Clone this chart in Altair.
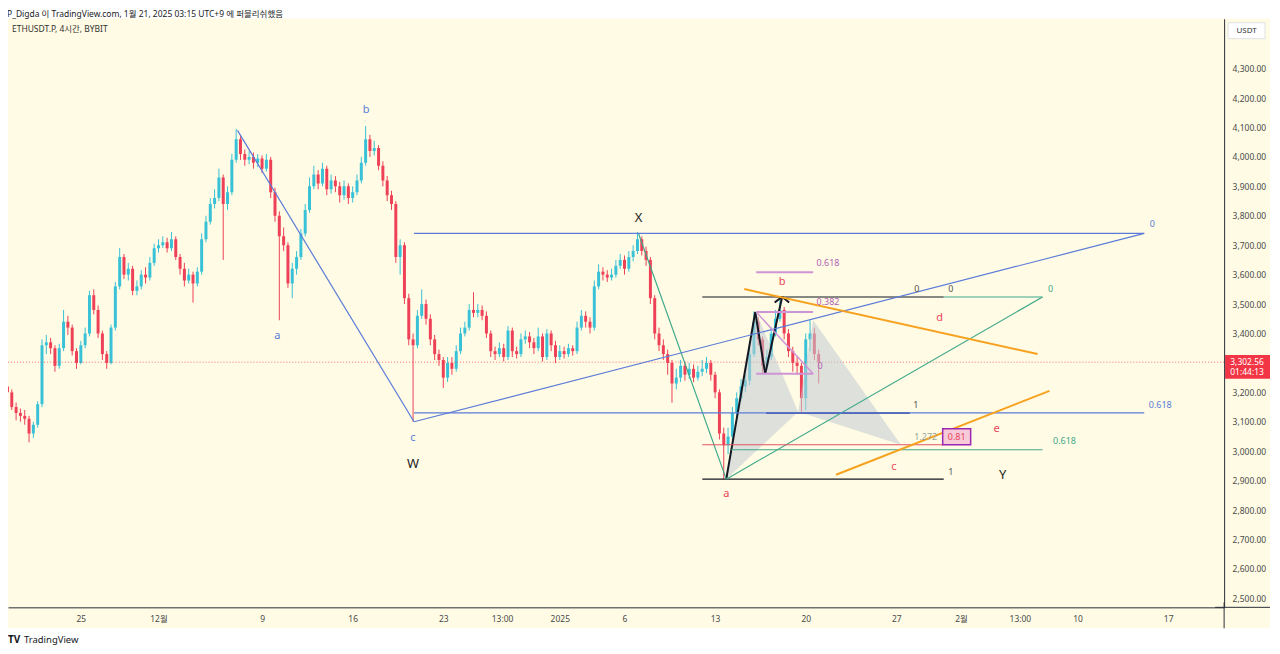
import altair as alt
import pandas as pd
import numpy as np

# ---------------- data (8h candles, x = days since 2024-11-25 00:00 UTC+9) ----------------
first_day = -17 / 3
first_open = 3220
closes = [3200, 3150, 3130, 3120, 3110, 3060, 3090, 3160, 3360, 3370,
          3350, 3290, 3350, 3440, 3420, 3340, 3300, 3360, 3400, 3530,
          3480, 3400, 3330, 3300, 3420, 3560, 3660, 3600, 3620, 3545,
          3560, 3600, 3590, 3640, 3690, 3700, 3710, 3690, 3720, 3660,
          3620, 3580, 3600, 3570, 3610, 3720, 3780, 3840, 3860, 3930,
          3840, 3880, 3990, 4060, 4010, 3990, 4000, 3980, 3995, 3960,
          3990, 3880, 3800, 3730, 3700, 3570, 3620, 3660, 3740, 3820,
          3900, 3940, 3910, 3960, 3890, 3920, 3900, 3870, 3900, 3860,
          3880, 3920, 3980, 4060, 4020, 4030, 3970, 3920, 3870, 3840,
          3660, 3700, 3520, 3380, 3360, 3460, 3500, 3450, 3380, 3330,
          3310, 3250, 3300, 3280, 3340, 3400, 3420, 3480, 3470, 3480,
          3460, 3400, 3340, 3330, 3350, 3320, 3410, 3340, 3330, 3380,
          3390, 3370, 3350, 3390, 3320, 3400, 3360, 3320, 3340, 3330,
          3350, 3340, 3420, 3460, 3440, 3420, 3560, 3610, 3600, 3590,
          3600, 3630, 3650, 3620, 3660, 3680, 3720, 3680, 3650, 3520,
          3400, 3360, 3330, 3300, 3230, 3250, 3290, 3260, 3280, 3250,
          3270, 3280, 3300, 3260, 3200, 3060, 3020, 3050, 3130, 3180,
          3220, 3240, 3330, 3440, 3380, 3290, 3320, 3400, 3450, 3480,
          3400, 3340, 3300, 3290, 3180, 3380, 3400, 3330, 3302.56]
highs = [3235, 3210, 3165, 3145, 3140, 3120, 3100, 3170, 3380, 3395,
         3385, 3360, 3365, 3480, 3460, 3430, 3350, 3375, 3420, 3545,
         3550, 3495, 3410, 3340, 3430, 3575, 3690, 3670, 3640, 3630,
         3580, 3615, 3625, 3660, 3705, 3720, 3730, 3725, 3745, 3730,
         3670, 3640, 3620, 3610, 3625, 3740, 3800, 3860, 3890, 3960,
         3940, 3900, 4010, 4095, 4070, 4025, 4020, 4015, 4010, 4005,
         4010, 4000, 3895, 3815, 3760, 3710, 3640, 3680, 3755, 3840,
         3930, 3970, 3955, 3980, 3970, 3940, 3935, 3915, 3920, 3910,
         3900, 3940, 4000, 4105, 4075, 4055, 4040, 3985, 3935, 3885,
         3850, 3720, 3710, 3535, 3400, 3480, 3550, 3515, 3465, 3395,
         3345, 3320, 3320, 3320, 3360, 3420, 3440, 3500, 3540, 3500,
         3495, 3475, 3410, 3355, 3370, 3365, 3425, 3420, 3355, 3400,
         3410, 3405, 3385, 3420, 3400, 3415, 3410, 3375, 3360, 3355,
         3365, 3360, 3440, 3480, 3475, 3455, 3580, 3635, 3625, 3615,
         3620, 3650, 3670, 3665, 3680, 3700, 3745, 3730, 3695, 3660,
         3530, 3420, 3380, 3345, 3310, 3280, 3310, 3305, 3300, 3295,
         3290, 3310, 3320, 3310, 3270, 3210, 3080, 3080, 3150, 3200,
         3245, 3260, 3350, 3475, 3455, 3390, 3345, 3420, 3480, 3525,
         3490, 3415, 3355, 3320, 3300, 3400, 3445, 3420, 3345]
lows = [3185, 3140, 3105, 3100, 3090, 3030, 3045, 3080, 3150, 3330,
        3330, 3270, 3280, 3340, 3395, 3325, 3280, 3295, 3350, 3390,
        3465, 3385, 3310, 3280, 3295, 3410, 3550, 3585, 3580, 3530,
        3530, 3550, 3570, 3580, 3630, 3675, 3690, 3675, 3680, 3650,
        3600, 3560, 3570, 3505, 3560, 3600, 3710, 3770, 3825, 3850,
        3650, 3820, 3870, 3980, 3990, 3970, 3975, 3960, 3965, 3945,
        3950, 3860, 3780, 3445, 3680, 3555, 3520, 3600, 3650, 3730,
        3810, 3890, 3890, 3900, 3870, 3875, 3880, 3845, 3855, 3840,
        3845, 3870, 3910, 3970, 4000, 4005, 3955, 3900, 3850, 3820,
        3640, 3600, 3500, 3360, 3100, 3350, 3450, 3430, 3360, 3310,
        3290, 3215, 3235, 3260, 3270, 3330, 3390, 3410, 3455, 3455,
        3445, 3385, 3320, 3310, 3320, 3305, 3310, 3320, 3315, 3320,
        3365, 3350, 3330, 3340, 3305, 3310, 3340, 3300, 3310, 3315,
        3320, 3325, 3330, 3410, 3420, 3400, 3410, 3550, 3580, 3575,
        3580, 3590, 3620, 3600, 3610, 3645, 3670, 3665, 3630, 3500,
        3380, 3340, 3310, 3260, 3165, 3210, 3235, 3240, 3245, 3235,
        3240, 3255, 3265, 3240, 3180, 3040, 2905, 2990, 3040, 3115,
        3170, 3200, 3225, 3320, 3360, 3265, 3280, 3310, 3390, 3440,
        3380, 3320, 3270, 3260, 3134, 3140, 3340, 3310, 3230]

last_price = 3302.56
# 3,300.00 is hidden behind the last-price tag in the reference
price_ticks = [2500, 2600, 2700, 2800, 2900, 3000, 3100, 3200, 3400, 3500,
               3600, 3700, 3800, 3900, 4000, 4100, 4200, 4300]
tick_days = [0, 6, 14, 21, 28, 32.5417, 37, 42, 49, 56, 63, 68, 72.5417, 77, 84]
tick_labels = ["25", "12월", "9", "16", "23", "13:00", "2025", "6", "13", "20",
               "27", "2월", "13:00", "10", "17"]

# drawings: (t, p, t2, p2, colour, width)
BLUE, GREEN, BLACK, NAVY = "#5a7bd8", "#3fa98b", "#131722", "#1f2a7a"
PURL, PURT, REDL, ORANGE, LRED = "#cf94d6", "#b060b5", "#e25563", "#f6a21e", "#e8455a"
segments = [
    (12.10, 4090, 25.74, 3100, BLUE, 1.2),
    (25.74, 3100, 82.15, 3740, BLUE, 1.2),
    (25.74, 3740, 82.15, 3740, BLUE, 1.2),
    (25.74, 3130, 82.15, 3130, BLUE, 1.2),
    (43.08, 3740, 49.86, 2905, GREEN, 1.2),
    (49.86, 2905, 74.29, 3524, GREEN, 1.2),
    (66.66, 3524, 74.29, 3524, GREEN, 1.2),
    (50.25, 3005, 74.29, 3005, GREEN, 1.2),
    (48.01, 3524, 66.66, 3524, BLACK, 1.2),
    (48.01, 2905, 66.66, 2905, BLACK, 1.2),
    (52.94, 3130, 64.04, 3130, NAVY, 1.6),
    (48.01, 3022, 66.66, 3022, REDL, 1.2),
    (52.17, 3608, 56.57, 3608, PURL, 2),
    (52.17, 3473, 56.57, 3473, PURL, 2),
    (52.17, 3263, 56.57, 3263, PURL, 2),
    (52.17, 3473, 56.57, 3263, PURL, 1.5),
    (51.25, 3551, 73.91, 3330, ORANGE, 2),
    (58.34, 2920, 74.83, 3205, ORANGE, 2),
    (49.86, 2905, 52.10, 3473, BLACK, 2),
    (52.10, 3473, 52.87, 3263, BLACK, 2),
    (52.87, 3263, 54.18, 3525, BLACK, 2),
    (53.60, 3505, 54.18, 3525, BLACK, 2),
    (54.18, 3525, 54.72, 3505, BLACK, 2),
]
# labels: (t, p, text, colour, size)
labels = [
    (22.04, 4158, "b", BLUE, 11), (15.18, 3392, "a", BLUE, 11), (25.66, 3046, "c", BLUE, 11),
    (82.77, 3771, "0", BLUE, 9), (83.39, 3158, "0.618", BLUE, 9),
    (43.08, 3792, "X", "#222222", 13), (25.66, 2958, "W", "#222222", 13),
    (71.21, 2920, "Y", "#222222", 13),
    (74.91, 3551, "0", GREEN, 9), (75.99, 3036, "0.618", GREEN, 9),
    (64.58, 3551, "0", "#555555", 9), (67.20, 3551, "0", "#555555", 9),
    (67.20, 2931, "1", "#555555", 9), (64.50, 3158, "1", "#555555", 9),
    (57.72, 3639, "0.618", PURT, 9), (57.72, 3507, "0.382", PURT, 9), (57.10, 3290, "0", PURT, 9),
    (65.27, 3049, "1.272", "#9aa59b", 9), (67.66, 3049, "0.81", LRED, 9),
    (49.86, 2853, "a", LRED, 11), (54.18, 3575, "b", LRED, 11), (62.81, 2948, "c", LRED, 11),
    (66.35, 3453, "d", LRED, 11), (70.75, 3076, "e", LRED, 11),
]
# harmonic pattern triangles (vertices in data space)
triangles = [
    [(49.86, 2905), (52.17, 3473), (55.41, 3134)],
    [(55.41, 3134), (56.57, 3446), (63.35, 3022)],
]
box = (66.58, 3022, 68.74, 3076)

# ---------------- build ----------------
BG = "#fffbe4"
UP, DN = "#38c1d7", "#ee4158"
FONT = "Noto Sans, Noto Sans CJK KR"
X0, X1 = -5.626, 88.32
Y0, Y1 = 2469.5, 4469.5
W, H = 1219, 590

n = len(closes)
opens = [first_open] + closes[:-1]
df = pd.DataFrame({"t": [first_day + i / 3 for i in range(n)], "o": opens, "c": closes,
                   "h": highs, "l": lows})
df["dir"] = np.where(df.c >= df.o, "up", "down")
df["tl"] = df.t - 0.115
df["tr"] = df.t + 0.115

xs = alt.Scale(domain=[X0, X1], nice=False, zero=False)
ys = alt.Scale(domain=[Y0, Y1], nice=False, zero=False)
label_expr = ("[" + ",".join(f"'{s}'" for s in tick_labels) + "][indexof(["
              + ",".join(str(v) for v in tick_days) + "], datum.value)]")
xaxis = alt.Axis(values=tick_days, labelExpr=label_expr, grid=False, ticks=False,
                 domainColor="#2a2e39", labelColor="#4a4a4a", labelFont=FONT,
                 labelFontSize=8.5, labelPadding=7, title=None, labelFlush=False, zindex=2)
yaxis = alt.Axis(orient="right", values=price_ticks, format=",.2f", grid=False, ticks=False,
                 domainColor="#2a2e39", labelColor="#4a4a4a", labelFont=FONT,
                 labelFontSize=8.5, labelPadding=8, title=None, zindex=2)


def X(f):
    return alt.X(f, scale=xs, axis=xaxis, title=None)


def Y(f):
    return alt.Y(f, scale=ys, axis=yaxis, title=None)


one = pd.DataFrame({"k": [0]})
frame = alt.Chart(one).mark_rect(color=BG).encode(
    x=alt.value(0), x2=alt.value(1265), y=alt.value(0), y2=alt.value(611))

wicks = alt.Chart(df).mark_rule(strokeWidth=1, clip=True).encode(
    x=X("t:Q"), y=Y("l:Q"), y2="h:Q",
    color=alt.Color("dir:N", scale=alt.Scale(domain=["up", "down"], range=[UP, DN]), legend=None))
bodies = alt.Chart(df).mark_rect(clip=True).encode(
    x=X("tl:Q"), x2="tr:Q", y=Y("o:Q"), y2="c:Q",
    color=alt.Color("dir:N", scale=alt.Scale(domain=["up", "down"], range=[UP, DN]), legend=None))

price_line = alt.Chart(pd.DataFrame({"p": [last_price]})).mark_rule(
    color="#f23645", strokeDash=[1, 2], strokeWidth=1, opacity=0.7).encode(y=Y("p:Q"))

tri_rows = []
for g, verts in enumerate(triangles):
    (ax, ay), (bx, by), (cx, cy) = sorted(verts)
    mid_other = ay + (cy - ay) * (bx - ax) / (cx - ax)
    tri_rows += [(ax, ay, ay, g), (bx, by, mid_other, g), (cx, cy, cy, g)]
tri = pd.DataFrame(tri_rows, columns=["t", "p", "p2", "g"])
areas = alt.Chart(tri).mark_area(color="#c2ccd4", opacity=0.55).encode(
    x=X("t:Q"), y=Y("p:Q"), y2="p2:Q", detail="g:N")

segs = pd.DataFrame(segments, columns=["t", "p", "t2", "p2", "col", "w"])
line_layers = []
for (col, w), grp in segs.groupby(["col", "w"]):
    line_layers.append(
        alt.Chart(grp.reset_index(drop=True)).mark_rule(color=col, strokeWidth=float(w)).encode(
            x=X("t:Q"), x2="t2:Q", y=Y("p:Q"), y2="p2:Q"))

boxdf = pd.DataFrame([box], columns=["t", "p", "t2", "p2"])
boxmark = alt.Chart(boxdf).mark_rect(fill="#f7cad9", stroke="#9c27b0", strokeWidth=1.5).encode(
    x=X("t:Q"), x2="t2:Q", y=Y("p:Q"), y2="p2:Q")

lab = pd.DataFrame(labels, columns=["t", "p", "text", "col", "size"])
text_layers = []
for (col, size), grp in lab.groupby(["col", "size"]):
    text_layers.append(
        alt.Chart(grp.reset_index(drop=True)).mark_text(
            font=FONT, align="center", baseline="middle", color=col, fontSize=float(size)).encode(
            x=X("t:Q"), y=Y("p:Q"), text="text:N"))

# price tag on the axis
tag = pd.DataFrame({"p": [3327.0], "p2": [3246.0]})
tag_rect = alt.Chart(tag).mark_rect(color="#f23645").encode(
    x=alt.value(1220), x2=alt.value(1265), y=Y("p:Q"), y2="p2:Q")
tag_txt = alt.Chart(pd.DataFrame({"p": [3304.0, 3270.0], "s": ["3,302.56", "01:44:13"]})).mark_text(
    font=FONT, fontSize=8.5, color="white", align="center", baseline="middle").encode(
    x=alt.value(1242), y=Y("p:Q"), text="s:N")

vline = alt.Chart(one).mark_rule(color="#2a2e39").encode(
    x=alt.value(1219), y=alt.value(585), y2=alt.value(611))
hline = alt.Chart(one).mark_rule(color="#2a2e39").encode(
    x=alt.value(1210), x2=alt.value(1265), y=alt.value(590))
usdt_box = alt.Chart(one).mark_rect(fill="white", stroke="#dfe1e6", strokeWidth=1).encode(
    x=alt.value(1223), x2=alt.value(1260), y=alt.value(4), y2=alt.value(20))
usdt_txt = alt.Chart(one).mark_text(text="USDT", font=FONT, fontSize=8, color="#333333",
                                    align="center", baseline="middle").encode(
    x=alt.value(1241.5), y=alt.value(12))
sym_txt = alt.Chart(one).mark_text(text="ETHUSDT.P, 4시간, BYBIT", font=FONT, fontSize=8.5,
                                   color="#333333", align="left", baseline="middle").encode(
    x=alt.value(4), y=alt.value(10))
head_txt = alt.Chart(one).mark_text(
    text="P_Digda 이 TradingView.com, 1월 21, 2025 03:15 UTC+9 에 퍼블리쉬했음",
    font=FONT, fontSize=8.5, color="#222222", align="left", baseline="alphabetic").encode(
    x=alt.value(-1), y=alt.value(-1.5))
tv_logo = alt.Chart(one).mark_text(text="TV", font=FONT, fontSize=10, fontWeight="bold",
                                   color="#131722", align="left", baseline="middle").encode(
    x=alt.value(0), y=alt.value(623))
tv_txt = alt.Chart(one).mark_text(text="TradingView", font=FONT, fontSize=9.5, color="#131722",
                                  align="left", baseline="middle").encode(
    x=alt.value(16), y=alt.value(623))

chart = alt.layer(
    frame, wicks, bodies, price_line, areas, *line_layers, boxmark, *text_layers,
    tag_rect, tag_txt, vline, hline, usdt_box, usdt_txt, sym_txt, head_txt, tv_logo, tv_txt,
).properties(
    width=W, height=H,
    autosize=alt.AutoSizeParams(type="none"),
    padding={"left": 0, "top": 10, "right": 48, "bottom": 38},
    background="white",
).configure_view(stroke=None, fill=BG)

chart.save("out.html", embed_options={"renderer": "svg", "actions": False})
